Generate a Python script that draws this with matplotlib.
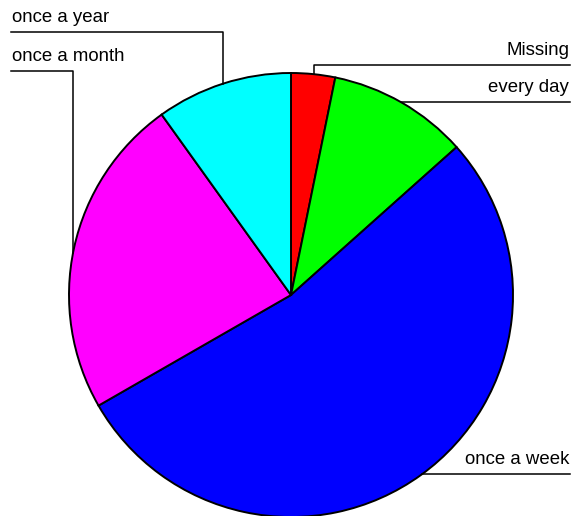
import numpy as np
import matplotlib.pyplot as plt

plt.rcParams['font.family'] = ['Liberation Sans', 'DejaVu Sans']

labels = ['Missing', 'every day', 'once a week', 'once a month', 'once a year']
shares = [3.2, 10.2, 53.3, 23.4, 9.9]
colors = ['#ff0000', '#00ff00', '#0000ff', '#ff00ff', '#00ffff']

W, H = 571, 516
fig = plt.figure(figsize=(W / 100, H / 100), dpi=100)
ax = fig.add_axes([0, 0, 1, 1])

# pie geometry in pixel units (y measured from top of image)
cx, cy, r = 291, 295, 222
ax.pie(shares, colors=colors, startangle=90, counterclock=False,
       center=(cx, H - cy), radius=r, frame=True,
       wedgeprops=dict(edgecolor='black', linewidth=1.4))
ax.set_xlim(0, W)
ax.set_ylim(0, H)
ax.axis('off')

# leader layout: (line y, text side, outer x, elbow x or None)
leaders = {
    'once a year':  (32, 'left', 11, 223),
    'once a month': (71, 'left', 11, 73),
    'Missing':      (65, 'right', 570, 314),
    'every day':    (102, 'right', 570, None),
    'once a week':  (474, 'right', 570, None),
}

for lab, (ly, side, ox, ex) in leaders.items():
    if ex is not None:
        # horizontal then vertical down to the pie edge
        ey = cy - np.sqrt(r ** 2 - (ex - cx) ** 2)
        xs = [ox, ex, ex]
        ys = [ly, ly, ey]
    else:
        dy = ly - cy
        px = cx + np.sqrt(r ** 2 - dy ** 2)
        xs = [px, ox]
        ys = [ly, ly]
    ax.plot(xs, [H - y for y in ys], color='black', lw=1.1)
    tx = 12 if side == 'left' else 569
    ax.text(tx, H - (ly - 10), lab, ha=side, va='baseline', fontsize=13.4)

fig.savefig('out.png', dpi=100)
